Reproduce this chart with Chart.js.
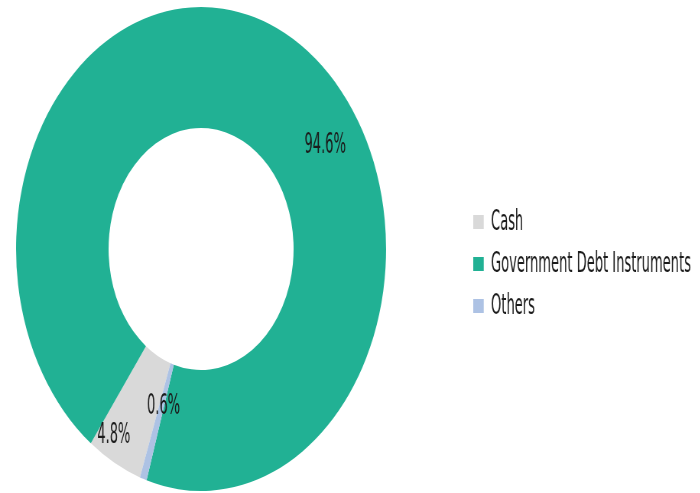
<!DOCTYPE html>
<html>
<head>
<meta charset="utf-8">
<script src="https://cdn.jsdelivr.net/npm/chart.js@4.4.1/dist/chart.umd.min.js"></script>
<style>
  html, body { margin: 0; padding: 0; background: #fff; }
  #frame { width: 700px; height: 493px; overflow: hidden; position: relative; }
  /* the source chart is squeezed sideways, so draw wide and compress */
  #stretch { width: 916px; height: 493px; transform: scaleX(0.7645); transform-origin: 0 0; }
</style>
</head>
<body>
<div id="frame">
  <div id="stretch">
    <canvas id="allocChart" width="916" height="493"></canvas>
  </div>
</div>
<script>
const categories = ["Cash", "Government Debt Instruments", "Others"];
const allocation = [4.8, 94.6, 0.6];
const sliceColors = ["#D9D9D9", "#21B194", "#ADC2E4"];

// where each % label sits inside its slice (fraction along arc, fraction across ring)
const labelAlong = [0.7, 0.59, 0.1];
const labelAcross = [0.81, 0.59, 0.36];

const FONT = "'DejaVu Sans Condensed', 'Liberation Sans Narrow', sans-serif";
const FONT_SIZE = 29;
const TEXT_SQUEEZE = 0.655;   // extra narrowing for the condensed-looking text
const LEGEND_PAD = 13;

/* ================= PLUGINS ================= */

const sliceLabels = {
    id: "sliceLabels",
    afterDatasetsDraw(chart) {
        const ctx = chart.ctx;
        const meta = chart.getDatasetMeta(0);
        const values = chart.data.datasets[0].data;
        const total = values.reduce((a, b) => a + b, 0);
        ctx.save();
        ctx.font = FONT_SIZE + "px " + FONT;
        ctx.fillStyle = "#1b1b1b";
        ctx.textAlign = "center";
        ctx.textBaseline = "middle";
        meta.data.forEach((arc, i) => {
            const p = arc.getProps(["x", "y", "startAngle", "endAngle", "innerRadius", "outerRadius"], true);
            const a = p.startAngle + labelAlong[i] * (p.endAngle - p.startAngle);
            const r = p.innerRadius + labelAcross[i] * (p.outerRadius - p.innerRadius);
            const txt = (values[i] / total * 100).toFixed(1) + "%";
            ctx.save();
            ctx.translate(p.x + Math.cos(a) * r, p.y + Math.sin(a) * r);
            ctx.scale(TEXT_SQUEEZE, 1);
            ctx.fillText(txt, 0, 0);
            ctx.restore();
        });
        ctx.restore();
    }
};

// legend column is wider than its items, items pushed right/down and narrowed
const legendBox = {
    id: "legendBox",
    beforeInit(chart) {
        const legend = chart.legend;
        const fit = legend.fit;
        legend.fit = function () {
            fit.call(this);
            this.width = 390;
        };
        const draw = legend.draw;
        legend.draw = function () {
            const dx = 80, dy = 15;
            const ctx = this.ctx;
            this.left += dx; this.right += 400; this.top += dy; this.bottom += dy;
            const x0 = this.left + LEGEND_PAD;
            ctx.save();
            ctx.translate(x0, 0);
            ctx.scale(TEXT_SQUEEZE, 1);
            ctx.translate(-x0, 0);
            draw.call(this);
            ctx.restore();
            this.left -= dx; this.right -= 400; this.top -= dy; this.bottom -= dy;
        };
    }
};

/* ================= CHART ================= */

new Chart(document.getElementById("allocChart"), {
    type: "doughnut",
    data: {
        labels: categories,
        datasets: [{
            data: allocation,
            backgroundColor: sliceColors,
            borderWidth: 0,
            hoverOffset: 0
        }]
    },
    options: {
        responsive: false,
        animation: false,
        cutout: "50%",
        rotation: 199.3,
        layout: { padding: { top: 7, bottom: 2, left: 0, right: 0 } },
        plugins: {
            tooltip: { enabled: false },
            legend: {
                position: "right",
                align: "center",
                labels: {
                    boxWidth: 21,
                    boxHeight: 14,
                    padding: LEGEND_PAD,
                    color: "#1b1b1b",
                    font: { family: FONT, size: FONT_SIZE }
                }
            }
        }
    },
    plugins: [sliceLabels, legendBox]
});
</script>
</body>
</html>
